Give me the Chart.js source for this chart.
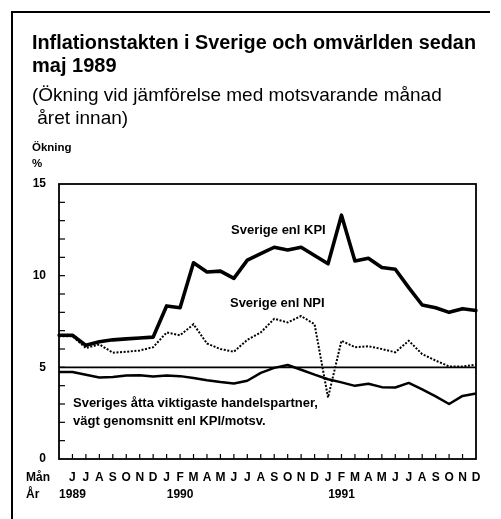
<!DOCTYPE html>
<html>
<head>
<meta charset="utf-8">
<script src="https://cdn.jsdelivr.net/npm/chart.js@4.4.0/dist/chart.umd.min.js"></script>
<style>
  html, body { margin: 0; padding: 0; background: #fff; }
  canvas { display: block; }
</style>
</head>
<body>
<canvas id="c" width="501" height="519"></canvas>
<script>
// ---- data ----
const categories = [
  '1989-05','1989-06','1989-07','1989-08','1989-09','1989-10','1989-11','1989-12',
  '1990-01','1990-02','1990-03','1990-04','1990-05','1990-06','1990-07','1990-08',
  '1990-09','1990-10','1990-11','1990-12','1991-01','1991-02','1991-03','1991-04',
  '1991-05','1991-06','1991-07','1991-08','1991-09','1991-10','1991-11','1991-12'
];
const monthLetters = [
  '', 'J','J','A','S','O','N','D',
  'J','F','M','A','M','J','J','A',
  'S','O','N','D','J','F','M','A',
  'M','J','J','A','S','O','N','D'
];
const yearLabels = [
  '', '1989','','','','','','',
  '','1990','','','','','','',
  '','','','','','1991','','',
  '','','','','','','',''
];
const kpi = [
  6.75, 6.75, 6.2, 6.4, 6.5, 6.55, 6.6, 6.65,
  8.35, 8.25, 10.7, 10.2, 10.25, 9.85, 10.85, 11.2,
  11.55, 11.4, 11.55, 11.1, 10.65, 13.3, 10.8, 10.95,
  10.45, 10.35, 9.35, 8.4, 8.25, 8.0, 8.2, 8.1
];
const npi = [
  6.7, 6.7, 6.05, 6.25, 5.8, 5.85, 5.92, 6.1,
  6.9, 6.75, 7.35, 6.3, 6.0, 5.85, 6.5, 6.9,
  7.65, 7.45, 7.8, 7.35, 3.35, 6.45, 6.1, 6.15,
  6.0, 5.82, 6.45, 5.72, 5.37, 5.05, 5.05, 5.15
];
const partners = [
  4.75, 4.75, 4.6, 4.45, 4.47, 4.55, 4.57, 4.5,
  4.55, 4.52, 4.42, 4.3, 4.2, 4.12, 4.27, 4.7,
  4.97, 5.13, 4.87, 4.6, 4.35, 4.18, 3.99, 4.1,
  3.92, 3.9, 4.15, 3.8, 3.42, 3.0, 3.44, 3.57
];
const yMin = 0, yMax = 15, yLabelStep = 5, yMinorStep = 1;
const referenceLevel = 5;

const titleLines = ['Inflationstakten i Sverige och omvärlden sedan', 'maj 1989'];
const subtitleLines = ['(Ökning vid jämförelse med motsvarande månad', ' året innan)'];
const yAxisTitle = ['Ökning', '%'];
const xRowTitles = ['Mån', 'År'];
const seriesNotes = [
  { text: 'Sverige enl KPI', x: 12.79, y: 12.49 },
  { text: 'Sverige enl NPI', x: 12.71, y: 8.47 },
  { text: 'Sveriges åtta viktigaste handelspartner,', x: 1.04, y: 3.05 },
  { text: 'vägt genomsnitt enl KPI/motsv.', x: 1.04, y: 2.05 }
];

// ---- styling / drawing ----
const FONT = '"Liberation Sans", Arial, Helvetica, sans-serif';
Chart.defaults.font.family = FONT;
Chart.defaults.color = '#000';

function seg(ctx, x1, y1, x2, y2) {
  ctx.beginPath(); ctx.moveTo(x1, y1); ctx.lineTo(x2, y2); ctx.stroke();
}

const decorPlugin = {
  id: 'decor',
  beforeDatasetsDraw(chart) {
    const { ctx, chartArea: a, scales: { x, y } } = chart;
    ctx.save();
    ctx.strokeStyle = '#000';
    ctx.lineCap = 'butt';
    // reference line
    ctx.lineWidth = 1.6;
    const yr = y.getPixelForValue(referenceLevel);
    seg(ctx, a.left, yr, a.right, yr);
    // inner minor ticks on y axis
    ctx.lineWidth = 1.2;
    for (let v = yMin + yMinorStep; v < yMax; v += yMinorStep) {
      const py = y.getPixelForValue(v);
      seg(ctx, a.left, py, a.left + 6, py);
    }
    // inner month ticks on x axis
    for (let i = 1; i < categories.length - 1; i++) {
      const px = x.getPixelForValue(i);
      seg(ctx, px, a.bottom, px, a.bottom - 5);
    }
    ctx.restore();
  },
  afterDatasetsDraw(chart) {
    const { ctx, chartArea: a, scales: { x, y } } = chart;
    ctx.save();
    ctx.strokeStyle = '#000';
    ctx.fillStyle = '#000';
    // plot frame
    ctx.lineWidth = 1.8;
    ctx.strokeRect(a.left, a.top, a.right - a.left, a.bottom - a.top);
    // series notes
    ctx.font = 'bold 13px ' + FONT;
    ctx.textBaseline = 'middle';
    ctx.textAlign = 'left';
    seriesNotes.forEach(n => {
      ctx.fillText(n.text, x.getPixelForValue(n.x), y.getPixelForValue(n.y));
    });
    // y axis title
    ctx.font = 'bold 11.5px ' + FONT;
    ctx.textBaseline = 'alphabetic';
    ctx.fillText(yAxisTitle[0], 32, 151);
    ctx.fillText(yAxisTitle[1], 32, 167);
    // x row titles
    ctx.font = 'bold 12px ' + FONT;
    ctx.textBaseline = 'middle';
    ctx.fillText(xRowTitles[0], 26, 477.3);
    ctx.fillText(xRowTitles[1], 26, 494.8);
    // outer frame (left + top)
    ctx.lineWidth = 2;
    seg(ctx, 12, 519, 12, 12);
    seg(ctx, 11, 12, 490, 12);
    ctx.restore();
  }
};

new Chart(document.getElementById('c'), {
  type: 'line',
  data: {
    labels: categories,
    datasets: [
      { label: 'Sverige enl KPI', data: kpi, borderColor: '#000', borderWidth: 3.6,
        pointRadius: 0, tension: 0, borderJoinStyle: 'round', borderCapStyle: 'round' },
      { label: 'Sverige enl NPI', data: npi, borderColor: '#000', borderWidth: 2,
        borderDash: [2, 1.6], pointRadius: 0, tension: 0 },
      { label: 'Sveriges åtta viktigaste handelspartner', data: partners, borderColor: '#000',
        borderWidth: 2.5, pointRadius: 0, tension: 0, borderJoinStyle: 'round' }
    ]
  },
  options: {
    responsive: false,
    animation: false,
    layout: { padding: { left: 32, right: 25, top: 0, bottom: 0 } },
    plugins: {
      legend: { display: false },
      tooltip: { enabled: false },
      title: {
        display: true, text: titleLines, align: 'start', color: '#000',
        font: { size: 20, weight: 'bold', lineHeight: 1.15 },
        padding: { top: 31.6, bottom: 0 }
      },
      subtitle: {
        display: true, text: subtitleLines, align: 'start', color: '#000',
        font: { size: 19, weight: 'normal', lineHeight: 23 / 19 },
        padding: { top: 6.3, bottom: 54.1 }
      }
    },
    scales: {
      x: {
        type: 'category', offset: false,
        grid: { display: false, drawTicks: false },
        border: { display: false },
        ticks: {
          autoSkip: false, maxRotation: 0, minRotation: 0, padding: 9.5,
          font: { size: 12, weight: 'bold', lineHeight: 17.5 / 12 },
          callback: (v, i) => yearLabels[i] ? [monthLetters[i], yearLabels[i]] : monthLetters[i]
        },
        afterFit: s => { s.height = 60; }
      },
      y: {
        min: yMin, max: yMax,
        grid: { display: false, drawTicks: false },
        border: { display: false },
        ticks: { stepSize: yLabelStep, padding: 13, font: { size: 12, weight: 'bold' } },
        afterFit: s => { s.width = 27; }
      }
    }
  },
  plugins: [decorPlugin]
});
</script>
</body>
</html>
